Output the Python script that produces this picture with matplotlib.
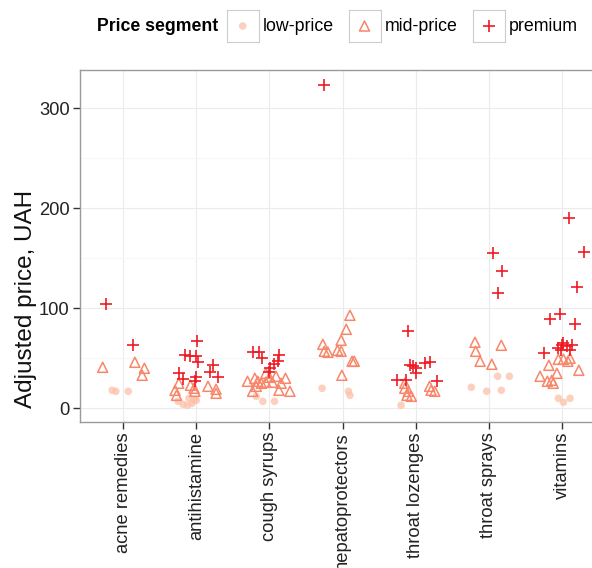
import numpy as np
import matplotlib
matplotlib.use('Agg')
import matplotlib.pyplot as plt

plt.rcParams['font.family'] = ['Liberation Sans', 'DejaVu Sans']

categories = ['acne remedies', 'antihistamine', 'cough syrups', 'hepatoprotectors',
              'throat lozenges', 'throat sprays', 'vitamins']
segments = ['low-price', 'mid-price', 'premium']
seg_colors = ['#FCC1AA', '#F7866A', '#EE1B24']

# one sub-list per category: horizontal jitter and adjusted price
low_dx = [[-0.15, -0.10, 0.07],
          [-0.25, -0.18, -0.12, -0.06, 0.0, -0.10, -0.03],
          [-0.18, -0.09, 0.07],
          [-0.28, 0.08, 0.10],
          [-0.20],
          [-0.24, -0.03, 0.17, 0.12, 0.28],
          [-0.05, 0.02, 0.11]]
low_price = [[18, 17, 17],
             [7, 4, 3, 5, 8, 10, 8],
             [12, 7, 7],
             [20, 17, 13],
             [3],
             [21, 17, 18, 32, 32],
             [10, 6, 10]]

mid_dx = [[-0.28, 0.16, 0.29, 0.26],
          [-0.24, -0.29, -0.27, -0.03, -0.02, 0.16, 0.27, 0.27, -0.08],
          [-0.30, -0.20, -0.16, -0.11, -0.18, -0.23, -0.05, 0.0, -0.05, 0.04, 0.16, 0.13, 0.28, 0.22, 0.09],
          [0.10, 0.05, -0.02, -0.27, -0.25, -0.20, -0.07, -0.02, 0.13, 0.16, -0.01],
          [-0.15, -0.10, -0.12, -0.06, 0.19, 0.21, 0.26, -0.15],
          [-0.19, -0.18, -0.12, 0.04, 0.17],
          [-0.18, -0.05, 0.02, 0.11, 0.23, -0.30, -0.20, -0.14, -0.12, -0.07, 0.08]]
mid_price = [[41, 46, 40, 33],
             [25, 18, 13, 20, 17, 22, 19, 15, 23],
             [27, 30, 27, 25, 22, 17, 35, 31, 26, 26, 25, 18, 17, 30, 32],
             [93, 79, 68, 64, 57, 56, 58, 57, 47, 47, 33],
             [20, 17, 13, 12, 22, 18, 17, 25],
             [66, 57, 47, 44, 63],
             [43, 49, 49, 50, 38, 32, 27, 28, 25, 35, 47]]

prem_dx = [[-0.23, 0.13],
           [0.01, -0.16, -0.09, -0.01, 0.02, 0.23, 0.19, 0.30, -0.23, -0.18, 0.0, -0.02],
           [-0.22, -0.14, -0.10, 0.13, 0.12, 0.06, 0.01, 0.0],
           [-0.25],
           [-0.10, -0.08, -0.04, 0.12, 0.19, 0.0, -0.26, -0.13, 0.29, 0.0],
           [0.05, 0.18, 0.12],
           [0.10, 0.30, 0.21, -0.03, -0.16, 0.18, -0.25, -0.05, 0.0, 0.02, 0.07, 0.14, 0.11, -0.02]]
prem_price = [[104, 63],
              [67, 53, 52, 52, 46, 43, 36, 31, 35, 29, 31, 27],
              [56, 56, 50, 53, 47, 44, 40, 36],
              [323],
              [77, 43, 42, 45, 46, 35, 28, 28, 27, 40],
              [155, 137, 115],
              [190, 156, 121, 94, 89, 84, 55, 60, 63, 65, 62, 63, 58, 58]]


def flatten(dx, price):
    x = np.concatenate([i + np.array(d, dtype=float) for i, d in enumerate(dx)])
    y = np.concatenate([np.array(p, dtype=float) for p in price])
    return x, y


W, H = 592, 568
fig = plt.figure(figsize=(W / 100, H / 100), dpi=100)
ax = fig.add_axes([80 / W, (H - 421.7) / H, 1 - 80 / W, (421.7 - 70) / H])

styles = [dict(marker='o', s=30, facecolors=seg_colors[0], edgecolors='none', alpha=0.75),
          dict(marker='^', s=52, facecolors='none', edgecolors=seg_colors[1], linewidths=1.1),
          dict(marker='+', s=72, c=seg_colors[2], linewidths=1.2)]
data = [(low_dx, low_price), (mid_dx, mid_price), (prem_dx, prem_price)]
for (dx, price), st in zip(data, styles):
    x, y = flatten(dx, price)
    ax.scatter(x, y, zorder=3, **st)

ax.set_xlim(-0.59, 6.41)
ax.set_ylim(-13.4, 338.3)
ax.set_xticks(range(len(categories)))
ax.set_xticklabels(categories, rotation=90, va='top', ha='center')
ax.set_yticks([0, 100, 200, 300])
ax.set_yticks([50, 150, 250], minor=True)
ax.grid(True, which='major', color='#EBEBEB', lw=0.8)
ax.grid(True, which='minor', axis='y', color='#F7F7F7', lw=0.8)
ax.set_axisbelow(True)
ax.tick_params(axis='both', which='major', length=5, width=1, color='#333333',
               labelsize=13.2, labelcolor='#222222', pad=2.5)
ax.tick_params(axis='y', which='minor', length=0)
for side in ['left', 'top', 'bottom']:
    ax.spines[side].set_color('#9A9A9A')
    ax.spines[side].set_linewidth(1.0)
ax.spines['right'].set_visible(False)

ax.set_ylabel('Adjusted price, UAH', fontsize=17.5, color='#111111')
ax.yaxis.set_label_coords(-0.084, 0.35)

# legend along the top
fig.text(97 / W, 1 - 26.5 / H, 'Price segment', fontsize=12.7, fontweight='bold',
         va='center', ha='left')
key_left = [226.7, 348.5, 473]
for seg, kx, st in zip(segments, key_left, styles):
    kax = fig.add_axes([kx / W, 1 - 42 / H, 32 / W, 32 / H])
    kax.scatter([0], [0], **st)
    kax.set_xlim(-1, 1)
    kax.set_ylim(-1, 1)
    kax.set_xticks([])
    kax.set_yticks([])
    for sp in kax.spines.values():
        sp.set_color('#CCCCCC')
        sp.set_linewidth(0.8)
    fig.text((kx + 36) / W, 1 - 26.5 / H, seg, fontsize=12.8, va='center', ha='left')

fig.savefig('out.png', dpi=100)
